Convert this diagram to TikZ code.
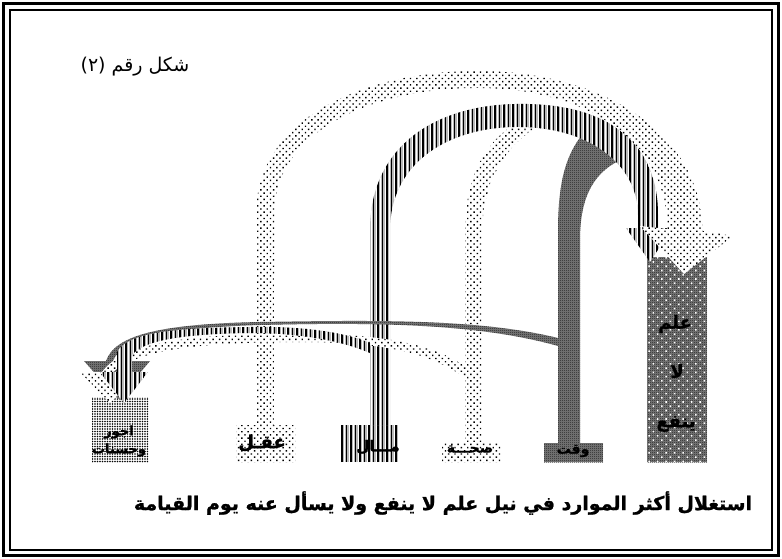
\documentclass[tikz,border=0pt]{standalone}
\usepackage{fontspec}
\usetikzlibrary{patterns.meta}
\TeXXeTstate=1
\newfontfamily\arabicfont[Script=Arabic, BoldFeatures={FakeBold=1.2}]{DejaVu Sans}
\tikzdeclarepattern{name=finecheck, type=uncolored, bottom left={(0pt,0pt)}, top right={(2pt,2pt)}, tile size={(2pt,2pt)},
  code={\fill (0pt,0pt) rectangle (1pt,1pt); \fill (1pt,1pt) rectangle (2pt,2pt);}}
\tikzset{
  dotband/.style={preaction={fill=white}, pattern={Dots[radius=1pt,distance=4.5pt,angle=45]}, pattern color=black},
  finedots/.style={preaction={fill=white}, pattern={Dots[radius=0.8pt,distance=2.5pt]}, pattern color=black},
  stripeband/.style={preaction={fill=gray!55},
     preaction={pattern={Lines[angle=90,distance=4.5pt,line width=0.9pt,xshift=2.6pt]}, pattern color=white},
     pattern={Lines[angle=90,distance=4.5pt,line width=1.7pt]}, pattern color=black},
  checkband/.style={preaction={fill=black!50}, pattern=finecheck, pattern color=black},
  ilmfill/.style={preaction={fill=black!50}, preaction={pattern=finecheck, pattern color=black},
     pattern={Dots[radius=1.1pt,distance=6pt,angle=45]}, pattern color=white},
  padbox/.style={draw=none, inner sep=0pt, outer sep=0pt},
  lbl/.style={inner sep=0pt, align=center},
}
\begin{document}
\begin{tikzpicture}[x=1pt,y=-1pt]
\useasboundingbox (0,0) rectangle (782,559);
% frame
\draw[line width=2.4pt] (3.5,3.5) rectangle (778.5,555.5);
\draw[line width=1.1pt] (10,10) rectangle (772,550);

% boxes
\node[padbox, finedots, minimum width=56pt, minimum height=65pt] (ajur) at (120,429.5) {};
\node[padbox, dotband, minimum width=59pt, minimum height=37pt] (aql) at (265.5,443.5) {};
\node[padbox, stripeband, minimum width=58pt, minimum height=37pt] (mal) at (369,443.5) {};
\node[padbox, dotband, minimum width=58pt, minimum height=19pt] (siha) at (471,452.5) {};
\node[padbox, checkband, minimum width=59pt, minimum height=19pt] (waqt) at (573.5,452.5) {};
\node[padbox, ilmfill, minimum width=60pt, minimum height=205pt] (ilm) at (677,359.5) {};

% waqt arch
\path[checkband] (558,443) -- (558,232) .. controls (558,180) and (566,150) .. (590,126)
  -- (625,158) .. controls (595,170) and (580,195) .. (580,240) -- (580,443) -- cycle;
% siha arch
\path[dotband] (465,443) -- (465,232) .. controls (465,170) and (490,135) .. (528,116)
  -- (546,121) .. controls (508,142) and (482,178) .. (482,235) -- (482,443) -- cycle;
% mal arch
\path[stripeband] (370,425) -- (370,230) .. controls (370,150) and (430,106) .. (515,104)
  .. controls (605,102) and (658,140) .. (658,215) -- (658,228) -- (672,228) -- (650,262)
  -- (626,228) -- (638,228) -- (638,215) .. controls (638,165) and (590,126) .. (515,127)
  .. controls (445,128) and (390,165) .. (390,230) -- (390,425) -- cycle;
% aql arch (top)
\path[dotband] (256,425) -- (256,215) .. controls (256,110) and (380,70) .. (480,71)
  .. controls (600,72) and (700,130) .. (703,231) -- (733,236) -- (684,274) -- (640,226)
  -- (667,229) .. controls (668,140) and (585,89) .. (480,88)
  .. controls (385,87) and (274,125) .. (274,215) -- (274,425) -- cycle;

% lower bands to ajur
\path[checkband] (558,338) .. controls (480,319) and (380,320) .. (260,322)
  .. controls (160,324) and (115,335) .. (106,361) -- (84,361) -- (118,399) -- (150,361)
  -- (113,361) .. controls (121,340) and (160,328) .. (260,325)
  .. controls (380,322) and (480,324) .. (558,346) -- cycle;
\path[dotband] (465,366) .. controls (430,343) and (380,334) .. (300,334)
  .. controls (200,334) and (125,340) .. (102,372) -- (80,372) -- (110,403) -- (140,372)
  -- (113,372) .. controls (138,350) and (200,342) .. (300,342)
  .. controls (380,342) and (430,352) .. (465,378) -- cycle;
\path[stripeband] (370,343) .. controls (340,330) and (290,326) .. (250,327)
  .. controls (170,328) and (128,333) .. (117,352) -- (117,372) -- (100,372) -- (124,403)
  -- (148,372) -- (132,372) -- (132,355) .. controls (142,342) and (175,334) .. (250,333)
  .. controls (290,333) and (335,338) .. (370,353) -- cycle;

% labels
\node[lbl, font=\arabicfont\fontsize{19}{22}\selectfont] (title) at (135,67) {\beginR شكل رقم \beginL(٢)\endL\endR};
\node[lbl, font=\arabicfont\bfseries\fontsize{13}{18}\selectfont] (tajur) at (119,441) {\beginR اجور\endR\\\beginR وحسنات\endR};
\node[lbl, font=\arabicfont\bfseries\fontsize{18}{20}\selectfont] (taql) at (262,443) {\beginR عقـل\endR};
\node[lbl, font=\arabicfont\bfseries\fontsize{15}{16}\selectfont] (tmal) at (378,447) {\beginR مـــال\endR};
\node[lbl, font=\arabicfont\bfseries\fontsize{14}{16}\selectfont] (tsiha) at (470,449) {\beginR صحـــة\endR};
\node[lbl, font=\arabicfont\bfseries\fontsize{14}{16}\selectfont] (twaqt) at (573,451) {\beginR وقت\endR};
\node[lbl, font=\arabicfont\bfseries\fontsize{18}{18}\selectfont] (tilm1) at (675,324) {\beginR علم\endR};
\node[lbl, font=\arabicfont\bfseries\fontsize{18}{18}\selectfont] (tilm2) at (677,371) {\beginR لا\endR};
\node[lbl, font=\arabicfont\bfseries\fontsize{18}{18}\selectfont] (tilm3) at (676,424) {\beginR ينفع\endR};
\node[lbl, font=\arabicfont\bfseries\fontsize{19}{22}\selectfont] (caption) at (443,503)
  {\beginR استغلال أكثر الموارد في نيل علم لا ينفع ولا يسأل عنه يوم القيامة\endR};
\end{tikzpicture}
\end{document}
